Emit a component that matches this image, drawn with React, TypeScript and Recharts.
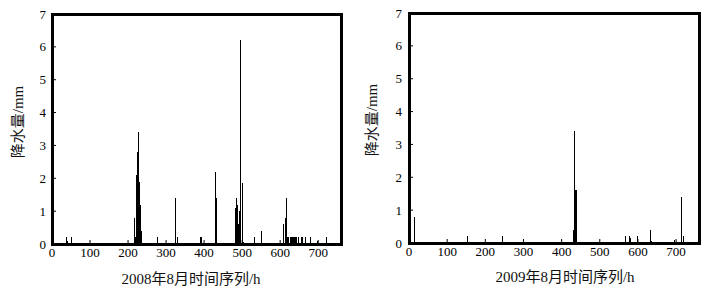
import React from 'react';
import { ComposedChart, Bar, XAxis, YAxis } from 'recharts';

const xTicks = [0, 100, 200, 300, 400, 500, 600, 700];
const yTicks = [0, 1, 2, 3, 4, 5, 6, 7];
const yTitle = '降水量/mm';
const xTitle2008 = '2008年8月时间序列/h';
const xTitle2009 = '2009年8月时间序列/h';

const hours2008 = [38, 40, 51, 217, 220, 222, 223, 224, 226, 227, 229, 230, 232, 235, 277, 325, 330, 391, 393, 431, 432,
  482, 483, 485, 486, 487, 488, 489, 490, 492, 493, 497, 500, 503, 532, 550, 609, 615, 618,
  620, 623, 626, 629, 632, 635, 638, 641, 644, 647, 655, 660, 666, 679, 697, 723];
const rain2008 = [0.2, 0.1, 0.2, 0.8, 0.2, 2.1, 1.6, 2.0, 2.8, 3.4, 1.9, 1.8, 1.2, 0.4, 0.2, 1.4, 0.2, 0.2, 0.2, 2.2, 1.4,
  1.1, 0.9, 1.4, 1.0, 1.2, 0.8, 0.9, 0.6, 1.0, 0.6, 6.2, 1.85, 0.05, 0.2, 0.4, 0.6, 0.8, 1.4,
  0.2, 0.2, 0.2, 0.2, 0.2, 0.2, 0.2, 0.2, 0.2, 0.2, 0.2, 0.2, 0.2, 0.2, 0.1, 0.2];

const hours2009 = [14, 154, 245, 431, 433, 434, 436, 437, 438, 440, 567, 579, 581, 600, 632, 634, 636, 697, 713, 719];
const rain2009 = [0.8, 0.2, 0.2, 0.4, 3.0, 3.4, 0.3, 1.6, 1.6, 0.35, 0.2, 0.2, 0.15, 0.2, 0.4, 0.35, 0.05, 0.1, 1.4, 0.2];

const SERIF = '"Liberation Serif", serif';
const TITLE_FONT = '"Liberation Serif", "Noto Sans CJK SC", serif';

const BarLine = (p: any) => {
  if (p.height == null || p.height <= 0) return null;
  const cx = Math.floor(p.x + p.width / 2);
  const top = Math.round(p.y);
  const bot = Math.round(p.y + p.height);
  return <rect x={cx} y={top} width={1} height={Math.max(1, bot - top)} fill="#000" shapeRendering="crispEdges" />;
};

const XTick = (p: any) => (
  <text x={p.x} y={p.y} dy="0.71em" textAnchor="middle" fill="#000" fontFamily={SERIF} fontSize={13}>
    {p.payload.value}
  </text>
);

const YTick = (p: any) => (
  <text x={p.x} y={p.y} dy="0.35em" textAnchor="end" fill="#000" fontFamily={SERIF} fontSize={13}>
    {p.payload.value}
  </text>
);

type PanelProps = {
  hours: number[];
  rain: number[];
  left: number;
  width: number;
  top: number;
  bottom: number;
  right: number;
  yAxisWidth: number;
  yTickMargin: number;
};

function Panel({ hours, rain, left, width, top, bottom, right, yAxisWidth, yTickMargin }: PanelProps) {
  const data = hours.map((h, i) => ({ h, v: rain[i] }));
  const xAxisHeight = 30;
  const plotLeft = yAxisWidth;
  const plotRight = width - right;
  const lineStyle = (l: number, t: number, w: number, h: number): React.CSSProperties => ({
    position: 'absolute', left: l, top: t, width: w, height: h, background: '#000', pointerEvents: 'none',
  });
  return (
    <div style={{ position: 'absolute', left, top: 0, width, height: 301 }}>
      <ComposedChart
        width={width}
        height={301}
        data={data}
        margin={{ top, right, bottom: 301 - bottom - xAxisHeight, left: 0 }}
        barSize={1}
      >
        <XAxis
          dataKey="h"
          type="number"
          domain={[0, 760]}
          ticks={xTicks}
          allowDataOverflow
          height={xAxisHeight}
          axisLine={false}
          tickSize={-4}
          tickMargin={8}
          tickLine={{ stroke: '#000', strokeWidth: 1 }}
          tick={<XTick />}
        />
        <YAxis
          type="number"
          domain={[0, 7]}
          ticks={yTicks}
          width={yAxisWidth}
          axisLine={false}
          tickSize={-4}
          tickMargin={yTickMargin}
          tickLine={{ stroke: '#000', strokeWidth: 1 }}
          tick={<YTick />}
        />
        <Bar dataKey="v" fill="#000" isAnimationActive={false} shape={BarLine} />
      </ComposedChart>
      <div style={lineStyle(plotLeft - 1, top - 1, plotRight - plotLeft + 3, 3)} />
      <div style={lineStyle(plotLeft - 1, bottom - 1, plotRight - plotLeft + 3, 3)} />
      <div style={lineStyle(plotLeft - 1, top - 1, 3, bottom - top + 3)} />
      <div style={lineStyle(plotRight - 1, top - 1, 3, bottom - top + 3)} />
    </div>
  );
}

function Title({ text, x, y, rotate }: { text: string; x: number; y: number; rotate?: boolean }) {
  return (
    <div
      style={{
        position: 'absolute',
        left: x,
        top: y,
        transform: `translate(-50%, -50%)${rotate ? ' rotate(-90deg)' : ''}`,
        whiteSpace: 'nowrap',
        fontFamily: TITLE_FONT,
        fontSize: 15,
        lineHeight: '16px',
        color: '#111',
      }}
    >
      {text}
    </div>
  );
}

export default function App() {
  return (
    <div style={{ position: 'absolute', left: 0, top: 0, width: 711, height: 301, background: '#fff', overflow: 'hidden' }}>
      <Panel hours={hours2008} rain={rain2008} left={0} width={360} top={14} bottom={244} right={19} yAxisWidth={52} yTickMargin={10} />
      <Panel hours={hours2009} rain={rain2009} left={360} width={351} top={13} bottom={243} right={12} yAxisWidth={49} yTickMargin={11} />
      <Title text={yTitle} x={18} y={122} rotate />
      <Title text={yTitle} x={372} y={120} rotate />
      <Title text={xTitle2008} x={191} y={279} />
      <Title text={xTitle2009} x={565} y={277} />
    </div>
  );
}
